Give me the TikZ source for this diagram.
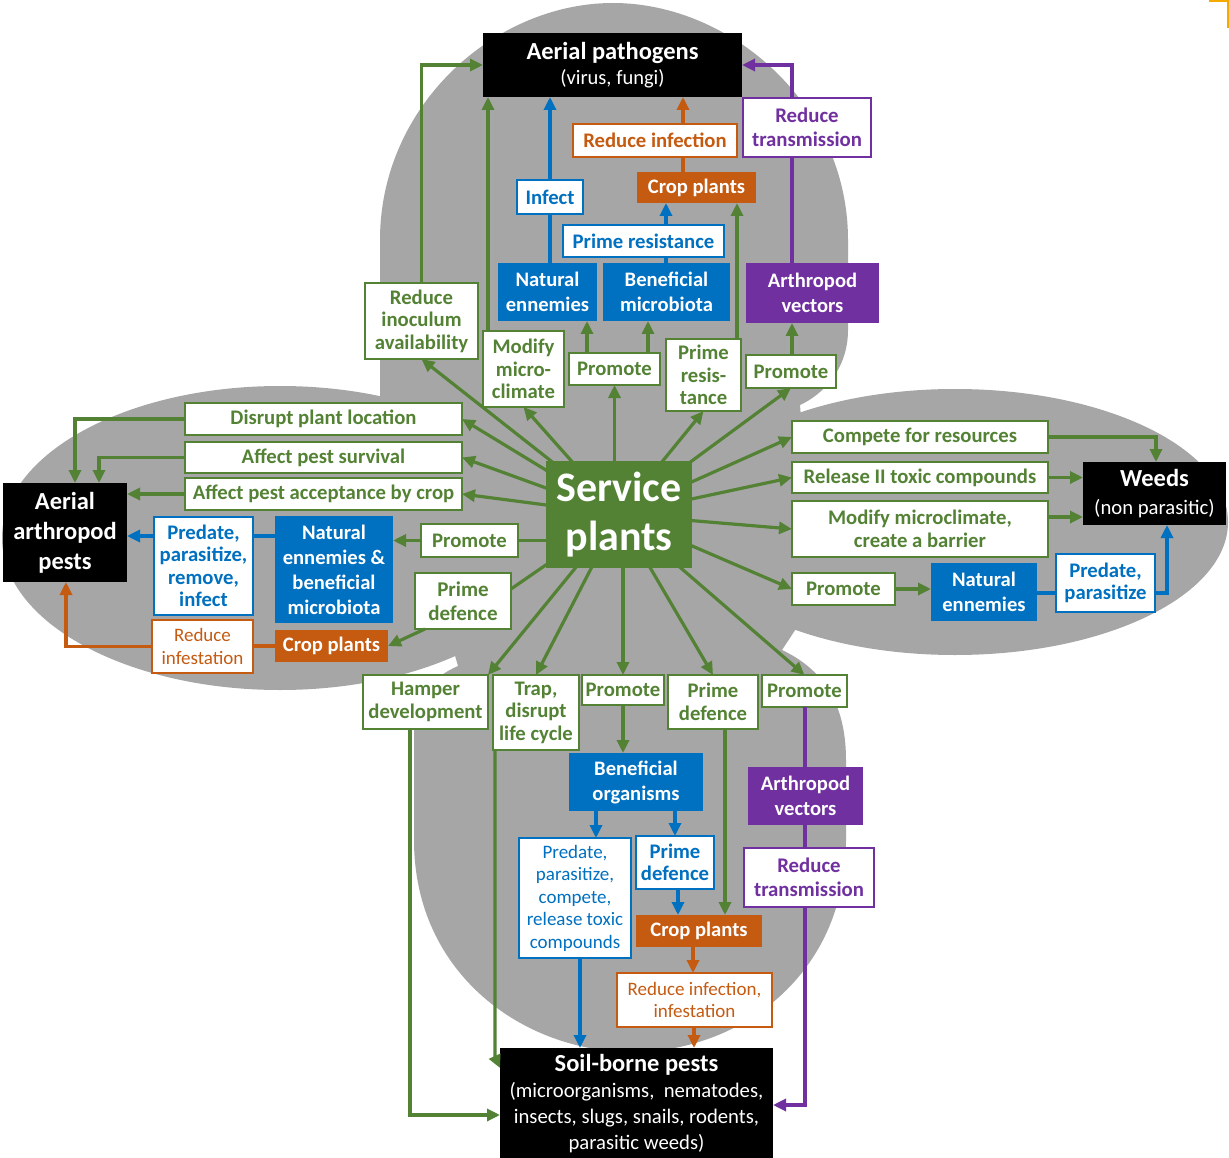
\documentclass[tikz,border=0pt]{standalone}
\usepackage{fontspec}
\setmainfont{Carlito}
\usetikzlibrary{arrows.meta}
\definecolor{cgreen}{RGB}{84,130,53}
\definecolor{cblue}{RGB}{0,112,192}
\definecolor{corange}{RGB}{197,90,17}
\definecolor{cpurple}{RGB}{112,48,160}
\definecolor{cgray}{RGB}{166,166,166}
\definecolor{cyel}{RGB}{245,170,0}
\pgfdeclarelayer{bg}\pgfdeclarelayer{fan}\pgfsetlayers{bg,fan,main}
\newcommand\mybox[7]{%
  \pgfmathsetmacro\mbw{#5-#3}%
  \pgfmathsetmacro\mbh{#6-#4}%
  \pgfmathsetmacro\mbx{(#3+#5)/2}%
  \pgfmathsetmacro\mby{(#4+#6)/2}%
  \node[#1, minimum width=\mbw pt, minimum height=\mbh pt] (#2) at (\mbx,\mby) {#7};}
\begin{document}
\begin{tikzpicture}[x=1pt,y=-1pt,
  base/.style={inner sep=0pt, outer sep=0pt, align=center, line width=1.6pt},
  lab/.style={base, fill=white, font=\bfseries\fontsize{20.7}{22.5}\selectfont},
  gbox/.style={lab, draw=cgreen, text=cgreen},
  bbox/.style={lab, draw=cblue, text=cblue},
  bboxr/.style={bbox, font=\mdseries\fontsize{19}{22.5}\selectfont},
  obox/.style={lab, draw=corange, text=corange},
  oboxr/.style={obox, font=\mdseries\fontsize{19}{22.5}\selectfont},
  pbox/.style={lab, draw=cpurple, text=cpurple, font=\bfseries\fontsize{20.8}{24}\selectfont},
  filled/.style={base, text=white, font=\bfseries\fontsize{20.6}{25}\selectfont},
  bfill/.style={filled, fill=cblue},
  ofill/.style={filled, fill=corange},
  pfill/.style={filled, fill=cpurple},
  blk/.style={base, fill=black, text=white},
  conn/.style={line width=3.2pt},
  arrowtip/.style={-{Triangle[length=13pt,width=12pt]}},
  gLine/.style={conn, draw=cgreen},
  gArr/.style={gLine, arrowtip},
  bLine/.style={conn, draw=cblue},
  bArr/.style={bLine, arrowtip},
  oLine/.style={conn, draw=corange},
  oArr/.style={oLine, arrowtip},
  pLine/.style={conn, draw=cpurple},
  pArr/.style={pLine, arrowtip}
]
\useasboundingbox (0,0) rectangle (1229,1158);

\begin{pgfonlayer}{bg}
\fill[white] (0,0) rectangle (1229,1158);
% centre
\fill[cgray] (380,395) -- (800,405) -- (815,600) -- (782,650) -- (458,666) -- cycle;
% top petal
\fill[cgray] (380,395) -- (380,240) .. controls (380,105) and (495,3) .. (613,3)
  .. controls (731,3) and (848,105) .. (848,240) -- (848,330)
  .. controls (848,370) and (822,395) .. (800,405) -- (620,520) -- cycle;
% bottom petal
\fill[cgray] (458,666) -- (620,540) -- (782,650) .. controls (820,668) and (846,700) .. (846,760)
  -- (846,840) .. controls (846,975) and (740,1052) .. (632,1052)
  .. controls (525,1052) and (414,975) .. (414,840) -- (414,730)
  .. controls (414,700) and (430,678) .. (458,666) -- cycle;
% side petals
\fill[cgray] (280,538) ellipse[x radius=278, y radius=152];
\fill[cgray] (955,522) ellipse[x radius=273, y radius=133];
\end{pgfonlayer}

\draw[cyel, line width=2pt] (1209,1) -- (1228,1) -- (1228,28);

% ---------- top ----------
\mybox{blk, font=\bfseries\fontsize{24.5}{26}\selectfont}{AP}{483}{33}{742}{97}{Aerial pathogens\\[-1pt]\fontsize{20.5}{22}\selectfont\mdseries (virus, fungi)}
\mybox{pbox}{RT1}{743}{98}{871}{157}{Reduce\\transmission}
\mybox{obox}{RI1}{573}{124}{737}{157}{Reduce infection}
\mybox{ofill}{CP1}{637}{172}{756}{203}{Crop plants}
\mybox{bbox}{INF}{517}{180}{583}{214}{Infect}
\mybox{bbox}{PR1}{563}{225}{724}{257}{Prime resistance}
\mybox{bfill}{NE1}{498}{263}{597}{321}{Natural\\ennemies}
\mybox{bfill}{BM1}{603}{263}{730}{321}{Beneficial\\microbiota}
\mybox{pfill}{AV1}{746}{263}{879}{323}{Arthropod\\vectors}
\mybox{gbox}{RIA}{365}{283}{478}{359}{Reduce\\inoculum\\availability}
\mybox{gbox}{MMC}{483}{331}{564}{407}{Modify\\micro-\\climate}
\mybox{gbox}{PRO1}{569}{353}{660}{385}{Promote}
\mybox{gbox}{PRT}{666}{339}{741}{411}{Prime\\resis-\\tance}
\mybox{gbox}{PRO2}{746}{355}{836}{388}{Promote}

% ---------- left ----------
\mybox{gbox}{DPL}{185}{403}{462}{435}{Disrupt plant location}
\mybox{gbox}{APS}{185}{442}{462}{473}{Affect pest survival}
\mybox{gbox}{APA}{185}{478}{462}{510}{Affect pest acceptance by crop}
\mybox{blk, font=\bfseries\fontsize{24.5}{30}\selectfont}{AAP}{3}{483}{127}{582}{Aerial\\arthropod\\pests}
\mybox{bbox}{PPRI}{154}{517}{253}{615}{Predate,\\parasitize,\\remove,\\infect}
\mybox{bfill}{NEB}{275}{516}{393}{623}{Natural\\ennemies \&\\beneficial\\microbiota}
\mybox{gbox}{PRO3}{421}{524}{518}{557}{Promote}
\mybox{gbox, font=\bfseries\fontsize{21}{24}\selectfont}{PDL}{415}{573}{511}{629}{Prime\\defence}
\mybox{oboxr}{RINF}{152}{620}{253}{673}{Reduce\\infestation}
\mybox{ofill}{CPL}{275}{630}{388}{662}{Crop plants}

% ---------- centre ----------
\mybox{base, fill=cgreen, text=white, font=\bfseries\fontsize{42}{49}\selectfont}{SP}{546}{461}{692}{568}{Service\\plants}

% ---------- right ----------
\mybox{gbox}{CFR}{792}{421}{1048}{453}{Compete for resources}
\mybox{gbox}{RTC}{792}{462}{1048}{493}{Release II toxic compounds}
\mybox{gbox}{MMB}{792}{501}{1048}{557}{Modify microclimate,\\create a barrier}
\mybox{gbox}{PRO4}{792}{573}{895}{605}{Promote}
\mybox{bfill}{NE2}{931}{563}{1037}{621}{Natural\\ennemies}
\mybox{bbox}{PP2}{1056}{554}{1155}{612}{Predate,\\parasitize}
\mybox{blk, font=\bfseries\fontsize{24.5}{28}\selectfont}{WEEDS}{1083}{462}{1226}{525}{Weeds\\\fontsize{20.7}{22}\selectfont\mdseries (non parasitic)}

% ---------- bottom ----------
\mybox{gbox}{HAM}{363}{675}{488}{729}{Hamper\\development}
\mybox{gbox}{TRAP}{493}{675}{579}{750}{Trap,\\disrupt\\life cycle}
\mybox{gbox}{PRO5}{582}{675}{664}{705}{Promote}
\mybox{gbox}{PDB}{668}{675}{758}{729}{Prime\\defence}
\mybox{gbox}{PRO6}{762}{675}{847}{707}{Promote}
\mybox{bfill}{BO}{569}{753}{703}{811}{Beneficial\\organisms}
\mybox{pfill}{AV2}{748}{767}{863}{825}{Arthropod\\vectors}
\mybox{bboxr}{PPC}{519}{838}{631}{958}{Predate,\\parasitize,\\compete,\\release toxic\\compounds}
\mybox{bbox}{PDB2}{636}{836}{714}{889}{Prime\\defence}
\mybox{pbox}{RT2}{744}{848}{874}{907}{Reduce\\transmission}
\mybox{ofill}{CP3}{636}{915}{762}{947}{Crop plants}
\mybox{oboxr}{RII}{617}{973}{772}{1027}{Reduce infection,\\infestation}
\mybox{blk, font=\bfseries\fontsize{24.5}{26}\selectfont}{SBP}{500}{1048}{773}{1160}{Soil-borne pests\\\fontsize{20.7}{25.5}\selectfont\mdseries (microorganisms,\ \ nematodes,\\\fontsize{20.7}{25.5}\selectfont\mdseries insects, slugs, snails, rodents,\\\fontsize{20.7}{25.5}\selectfont\mdseries parasitic weeds)}

% ---------- fan from service plants ----------
\begin{pgfonlayer}{fan}
\draw[gArr] (SP.center) -- (RIA.south);
\draw[gArr] (SP.center) -- (MMC.south);
\draw[gArr] (SP.center -| PRO1.south) -- (PRO1.south);
\draw[gArr] (SP.center) -- (PRT.south);
\draw[gArr] (SP.center) -- (PRO2.south);
\draw[gArr] (SP.center) -- (DPL.east);
\draw[gArr] (SP.center) -- (APS.east);
\draw[gArr] (SP.center) -- (APA.east);
\draw[gLine] (SP.center |- PRO3.east) -- (PRO3.east);
\draw[gLine] (SP.center) -- ([yshift=12pt]PDL.east);
\draw[gArr] (SP.center) -- (HAM.north east);
\draw[gArr] (SP.center) -- (TRAP.north);
\draw[gArr] (SP.center -| PRO5.north) -- (PRO5.north);
\draw[gArr] (SP.center) -- (PDB.north);
\draw[gArr] (SP.center) -- (PRO6.north);
\draw[gArr] (SP.center) -- (CFR.west);
\draw[gArr] (SP.center) -- (RTC.west);
\draw[gArr] (SP.center) -- (MMB.west);
\draw[gArr] (SP.center) -- (PRO4.west);
\end{pgfonlayer}

% ---------- top connectors ----------
\draw[gArr] (RIA.north) |- (AP.west);
\draw[gArr] (MMC.north -| 488,0) -- (AP.south -| 488,0);
\draw[bLine] (NE1.north -| INF.south) -- (INF.south);
\draw[bArr] (INF.north) -- (AP.south -| INF.north);
\draw[bLine] (BM1.north -| 666,0) -- (PR1.south -| 666,0);
\draw[bArr] (PR1.north -| 666,0) -- (CP1.south -| 666,0);
\draw[oLine] (CP1.north -| 683,0) -- (RI1.south -| 683,0);
\draw[oArr] (RI1.north -| 683,0) -- (AP.south -| 683,0);
\draw[gArr] (PRT.north -| 737,0) -- (CP1.south -| 737,0);
\draw[pLine] (AV1.north -| 792,0) -- (RT1.south -| 792,0);
\draw[pArr] (RT1.north -| 792,0) |- (AP.east);
\draw[gArr] (PRO1.north -| 587,0) -- (NE1.south -| 587,0);
\draw[gArr] (PRO1.north -| 648,0) -- (BM1.south -| 648,0);
\draw[gArr] (PRO2.north -| 792,0) -- (AV1.south -| 792,0);

% ---------- left connectors ----------
\draw[gArr] (DPL.west) -| (AAP.north -| 75,0);
\draw[gArr] (APS.west) -| (AAP.north -| 99,0);
\draw[gArr] (APA.west) -- (AAP.east |- APA.west);
\draw[bLine] (NEB.west |- 0,536) -- (PPRI.east |- 0,536);
\draw[bArr] (PPRI.west |- 0,536) -- (AAP.east |- 0,536);
\draw[gArr] (PRO3.west) -- (NEB.east |- PRO3.west);
\draw[oLine] (CPL.west) -- (RINF.east |- CPL.west);
\draw[oArr] (RINF.west) -| (AAP.south -| 66,0);
\draw[gArr] ([xshift=10pt]PDL.south west) -- (CPL.east);

% ---------- right connectors ----------
\draw[gArr] (CFR.east) -| (WEEDS.north -| 1156,0);
\draw[gArr] (RTC.east) -- (WEEDS.west |- RTC.east);
\draw[gArr] (MMB.east |- 0,517) -- (WEEDS.west |- 0,517);
\draw[gArr] (PRO4.east) -- (NE2.west |- PRO4.east);
\draw[bLine] (NE2.east |- 0,593) -- (PP2.west |- 0,593);
\draw[bArr] (PP2.east |- 0,593) -| (WEEDS.south -| 1167,0);

% ---------- bottom connectors ----------
\draw[gArr] (HAM.south -| 410,0) |- (SBP.west |- 0,1115);
\draw[gArr] (TRAP.south -| 495,0) -- (495,1057) -- (SBP.west |- 0,1068);
\draw[gArr] (PRO5.south) -- (BO.north -| PRO5.south);
\draw[bArr] (BO.south -| 596,0) -- (PPC.north -| 596,0);
\draw[bArr] (BO.south -| PDB2.north) -- (PDB2.north);
\draw[bArr] (PDB2.south -| 678,0) -- (CP3.north -| 678,0);
\draw[gArr] (PDB.south -| 725,0) -- (CP3.north -| 725,0);
\draw[oArr] (CP3.south -| 693,0) -- (RII.north -| 693,0);
\draw[oArr] (RII.south -| 694,0) -- (SBP.north -| 694,0);
\draw[bArr] (PPC.south -| 580,0) -- (SBP.north -| 580,0);
\draw[pLine] (PRO6.south -| 805,0) -- (AV2.north -| 805,0);
\draw[pLine] (AV2.south -| 805,0) -- (RT2.north -| 805,0);
\draw[pArr] (RT2.south -| 805,0) |- (SBP.east |- 0,1105);
\end{tikzpicture}
\end{document}
